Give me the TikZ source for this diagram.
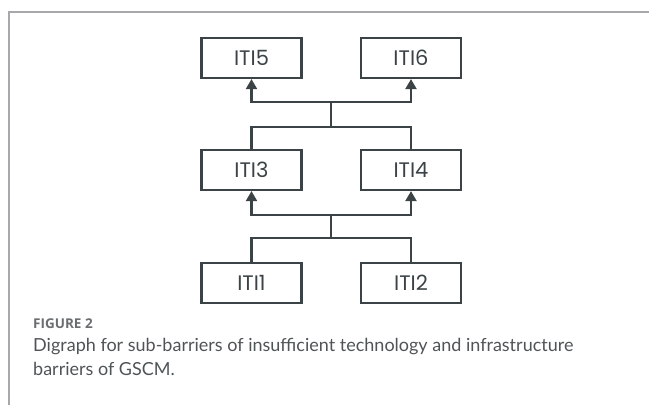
\documentclass[tikz,border=0pt]{standalone}
\usepackage{fontspec}
\usetikzlibrary{arrows.meta}
\newfontfamily\boxfont{Poppins}
\newfontfamily\capfont{Lato}
\newfontfamily\labfont{Open Sans}
\definecolor{ink}{HTML}{3C4346}
\definecolor{framegray}{HTML}{A6A8AB}
\definecolor{capgray}{HTML}{4F5457}
\definecolor{labgray}{HTML}{6A6E71}
\tikzset{
  itibox/.style={draw=ink, line width=2.2pt, minimum width=100pt, minimum height=40pt,
    inner sep=0pt, font=\boxfont\fontsize{21}{21}\selectfont, text=ink},
  link/.style={draw=ink, line width=2.2pt},
  arr/.style={link, -{Triangle[length=10pt,width=11pt]}},
  captext/.style={anchor=base west, inner sep=0pt, text=capgray, font=\capfont\fontsize{18}{20}\selectfont}
}
\begin{document}
\begin{tikzpicture}[x=1pt,y=-1pt]
\useasboundingbox (0,0) rectangle (649,405);
% frame
\draw[framegray, line width=1.5pt] (9,405) -- (9,12) -- (649,12);
% boxes
\node[itibox] (i5) at (251.5,58) {ITI5};
\node[itibox] (i6) at (411,58) {ITI6};
\node[itibox] (i3) at (251.5,170) {ITI3};
\node[itibox] (i4) at (411,170) {ITI4};
\node[itibox] (i1) at (251.5,283) {ITI1};
\node[itibox] (i2) at (411,283) {ITI2};
% junctions
\coordinate (a1) at (331,238);
\coordinate (a2) at (331,215);
\coordinate (b1) at (331,127);
\coordinate (b2) at (331,102);
% lower connectors
\draw[link] (i1.north) |- (a1) -| (i2.north);
\draw[link] (a1) -- (a2);
\draw[arr] (a2) -| (i3.south);
\draw[arr] (a2) -| (i4.south);
% upper connectors
\draw[link] (i3.north) |- (b1) -| (i4.north);
\draw[link] (b1) -- (b2);
\draw[arr] (b2) -| (i5.south);
\draw[arr] (b2) -| (i6.south);
% caption
\node[anchor=base west, inner sep=0pt, text=labgray, font=\labfont\bfseries\fontsize{13.5}{16}\selectfont] (fig) at (33,328) {FIGURE 2};
\node[captext] (c1) at (33,351) {Digraph for sub-barriers of insufficient technology and infrastructure};
\node[captext] (c2) at (33,375) {barriers of GSCM.};
\end{tikzpicture}
\end{document}
